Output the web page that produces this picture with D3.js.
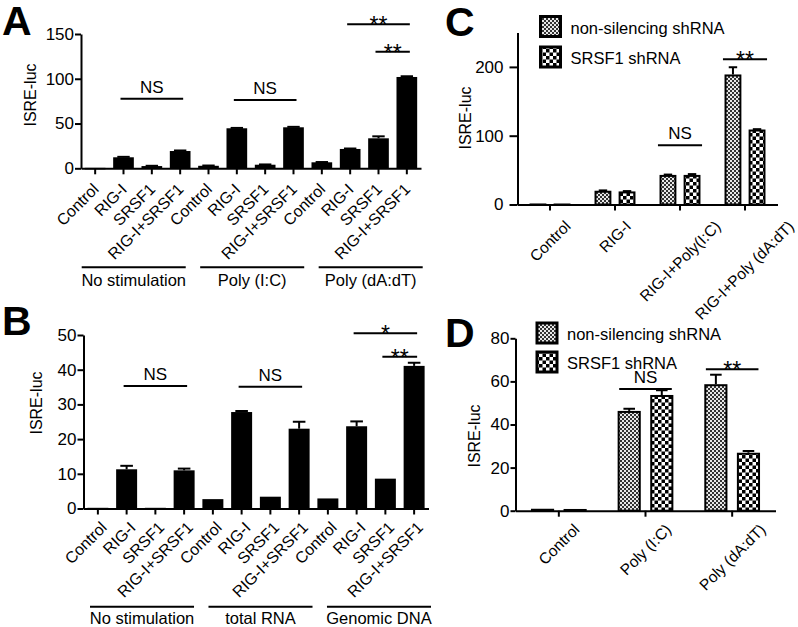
<!DOCTYPE html>
<html><head><meta charset="utf-8">
<script src="https://cdn.jsdelivr.net/npm/d3@7"></script>
<style>
body{margin:0;background:#fff}
svg text{font-family:"Liberation Sans",Arial,Helvetica,sans-serif;fill:#000}
</style>
</head><body>
<svg id="chart" width="798" height="627"></svg>
<script>
// ---------------- DATA ----------------
const conditions = ["Control", "RIG-I", "SRSF1", "RIG-I+SRSF1"];
const groupsA = ["No stimulation", "Poly (I:C)", "Poly (dA:dT)"];
const valuesA = [0.5, 12.3, 2.5, 19.3, 2.8, 44.7, 4, 45.8, 6.7, 21.6, 33.5, 102];
const errorsA = [0.2, 0.5, 0.3, 0.6, 0.3, 0.4, 0.3, 0.5, 0.3, 0.5, 2.2, 0.8];
const yTicksA = [0, 50, 100, 150];

const groupsB = ["No stimulation", "total RNA", "Genomic DNA"];
const valuesB = [0.2, 11.3, 0.2, 11, 2.7, 27.8, 3.4, 23, 2.9, 23.7, 8.6, 41.1];
const errorsB = [0, 1, 0, 0.5, 0, 0.3, 0, 2, 0, 1.4, 0.2, 0.9];
const yTicksB = [0, 10, 20, 30, 40, 50];

const seriesCD = ["non-silencing shRNA", "SRSF1 shRNA"];
const categoriesC = ["Control", "RIG-I", "RIG-I+Poly(I:C)", "RIG-I+Poly (dA:dT)"];
const nonSilencingC = [1.5, 20, 43, 189];
const nonSilencingErrC = [0, 0.5, 0.5, 10.5];
const srsf1C = [0.5, 19, 43, 109];
const srsf1ErrC = [0, 0.5, 1.2, 0.5];
const yTicksC = [0, 100, 200];

const categoriesD = ["Control", "Poly (I:C)", "Poly (dA:dT)"];
const nonSilencingD = [0.9, 46.3, 58.7];
const nonSilencingErrD = [0.1, 1, 4.4];
const srsf1D = [0.8, 53.7, 26.9];
const srsf1ErrD = [0.1, 2.2, 0.8];
const yTicksD = [0, 20, 40, 60, 80];

// significance annotations: [fromIndex, toIndex, lineValue, label]
const sigA = [[1, 3, 77.8, "NS"], [5, 7, 76.4, "NS"], [9, 11, 161, "**"], [10, 11, 130.3, "**"]];
const sigB = [[1, 3, 35.3, "NS"], [5, 7, 35.1, "NS"], [9, 11, 50.5, "*"], [10, 11, 43.7, "**"]];
const sigC = [[2, 86, "NS"], [3, 211, "**"]];
const sigD = [[1, 56.5, "NS"], [2, 65.6, "**"]];

// ---------------- DRAW ----------------
const svg = d3.select("#chart");
const FONT = '"Liberation Sans",Arial,Helvetica,sans-serif';

const defs = svg.append("defs");
// fine checker (non-silencing)
const p1 = defs.append("pattern").attr("id", "fine").attr("patternUnits", "userSpaceOnUse")
  .attr("width", 4).attr("height", 4);
p1.append("rect").attr("width", 4).attr("height", 4).attr("fill", "#e8e8e8");
p1.append("rect").attr("width", 2).attr("height", 2).attr("fill", "#333");
p1.append("rect").attr("x", 2).attr("y", 2).attr("width", 2).attr("height", 2).attr("fill", "#333");
// coarse checker (SRSF1)
const p2 = defs.append("pattern").attr("id", "coarse").attr("patternUnits", "userSpaceOnUse")
  .attr("width", 7).attr("height", 7);
p2.append("rect").attr("width", 7).attr("height", 7).attr("fill", "#fff");
p2.append("rect").attr("width", 3.5).attr("height", 3.5).attr("fill", "#000");
p2.append("rect").attr("x", 3.5).attr("y", 3.5).attr("width", 3.5).attr("height", 3.5).attr("fill", "#000");

function styleAxis(g) {
  g.selectAll("path.domain").attr("stroke", "#000").attr("stroke-width", 2);
  g.selectAll(".tick line").attr("stroke", "#000").attr("stroke-width", 2);
  g.selectAll(".tick text").style("font-family", FONT).style("font-size", "17px").attr("fill", "#000");
}

function panelLetter(txt, x, y) {
  svg.append("text").attr("x", x).attr("y", y).text(txt)
    .style("font-size", "41px").style("font-weight", "bold");
}
function yLabel(x, y, size) {
  svg.append("text").attr("transform", `translate(${x},${y}) rotate(-90)`)
    .attr("text-anchor", "middle").style("font-size", size + "px").text("ISRE-luc");
}
function sigText(x, lineY, label) {
  const star = label.indexOf("*") >= 0;
  svg.append("text").attr("x", x).attr("y", star ? lineY + 9 : lineY - 6)
    .attr("text-anchor", "middle")
    .style("font-size", star ? "23px" : "17px").text(label);
}
function sigLine(x1, x2, y) {
  svg.append("line").attr("x1", x1).attr("x2", x2).attr("y1", y).attr("y2", y)
    .attr("stroke", "#000").attr("stroke-width", 2);
}
function errBar(g, cx, yTop, yErr, halfCap) {
  g.append("line").attr("x1", cx).attr("x2", cx).attr("y1", yTop).attr("y2", yErr)
    .attr("stroke", "#000").attr("stroke-width", 2);
  g.append("line").attr("x1", cx - halfCap).attr("x2", cx + halfCap).attr("y1", yErr).attr("y2", yErr)
    .attr("stroke", "#000").attr("stroke-width", 2);
}

// ---- Panels A and B (single black bars, 12 columns) ----
function drawSolidPanel(cfg) {
  const labels = cfg.groups.flatMap(g => conditions.map(c => g + "|" + c));
  const x = d3.scaleBand().domain(labels).range([cfg.x0, cfg.x1]).paddingInner(0.27).paddingOuter(0.135);
  const y = d3.scaleLinear().domain([0, cfg.yMax]).range([cfg.yBase, cfg.yTop]);
  const g = svg.append("g");
  const bw = x.bandwidth();
  g.selectAll("rect.bar").data(cfg.values).join("rect")
    .attr("x", (d, i) => x(labels[i])).attr("width", bw)
    .attr("y", d => y(d)).attr("height", d => Math.max(1.5, y(0) - y(d)))
    .attr("fill", "#000");
  cfg.values.forEach((v, i) => {
    if (cfg.errors[i] > 0.25) errBar(g, x(labels[i]) + bw / 2, y(v), y(v + cfg.errors[i]), bw * 0.3);
  });
  // axes
  const ya = svg.append("g").attr("transform", `translate(${cfg.x0},0)`)
    .call(d3.axisLeft(y).tickValues(cfg.yTicks).tickSize(6).tickSizeOuter(0).tickPadding(1));
  styleAxis(ya);
  const xa = svg.append("g").attr("transform", `translate(0,${cfg.yBase})`)
    .call(d3.axisBottom(x).tickSize(6).tickSizeOuter(0).tickFormat(""));
  styleAxis(xa);
  xa.selectAll(".tick text").remove();
  // rotated labels
  labels.forEach((l, i) => {
    const cx = x(l) + bw / 2;
    svg.append("text")
      .attr("transform", `translate(${cx + cfg.ldx},${cfg.yBase + cfg.ldy}) rotate(-45)`)
      .attr("text-anchor", "end").style("font-size", "16px").text(l.split("|")[1]);
  });
  // group lines
  const gx = d3.scaleBand().domain(cfg.groups).range([cfg.g0, cfg.g1]).paddingInner(0.122);
  cfg.groups.forEach(gname => {
    const a = gx(gname), b = a + gx.bandwidth();
    sigLine(a, b, cfg.groupLineY);
    svg.append("text").attr("x", (a + b) / 2).attr("y", cfg.groupLineY + cfg.groupTextDy)
      .attr("text-anchor", "middle").style("font-size", "16.5px").text(gname);
  });
  // significance
  cfg.sig.forEach(([f, t, v, lab]) => {
    const xa1 = x(labels[f]) + bw / 2 - 3, xa2 = x(labels[t]) + bw / 2 + 3;
    sigLine(xa1, xa2, y(v));
    sigText((xa1 + xa2) / 2, y(v), lab);
  });
}

drawSolidPanel({
  groups: groupsA, values: valuesA, errors: errorsA, yTicks: yTicksA, yMax: 150,
  x0: 81, x1: 421, yBase: 168.3, yTop: 34, ldx: 4.5, ldy: 22,
  g0: 81.7, g1: 422.7, groupLineY: 267.3, groupTextDy: 19, sig: sigA
});
drawSolidPanel({
  groups: groupsB, values: valuesB, errors: errorsB, yTicks: yTicksB, yMax: 50,
  x0: 83.5, x1: 428.5, yBase: 508.5, yTop: 335, ldx: 10, ldy: 20,
  g0: 90, g1: 431, groupLineY: 606.7, groupTextDy: 16.8, sig: sigB
});
panelLetter("A", 2, 35);
panelLetter("B", 2, 335);
yLabel(36, 95, 16);
yLabel(41.5, 403, 16);

// ---- Panels C and D (paired patterned bars) ----
function drawPairPanel(cfg) {
  const x = d3.scaleBand().domain(cfg.cats).range([cfg.x0, cfg.x1])
    .paddingInner(cfg.pad).paddingOuter(cfg.pad / 2);
  const xi = d3.scaleBand().domain(seriesCD).range([0, x.bandwidth()]).paddingInner(cfg.ipad);
  const y = d3.scaleLinear().domain([0, cfg.yMax]).range([cfg.yBase, cfg.yTop]);
  const bw = xi.bandwidth();
  const series = [
    { name: seriesCD[0], vals: cfg.ns, errs: cfg.nsErr, fill: "url(#fine)" },
    { name: seriesCD[1], vals: cfg.sr, errs: cfg.srErr, fill: "url(#coarse)" }
  ];
  const g = svg.append("g");
  series.forEach(s => {
    s.vals.forEach((v, i) => {
      const bx = x(cfg.cats[i]) + xi(s.name);
      const h = Math.max(1, y(0) - y(v));
      g.append("rect").attr("x", bx + 1).attr("y", y(0) - h + 1)
        .attr("width", bw - 2).attr("height", Math.max(0.5, h - 1))
        .attr("fill", h < 4 ? "#000" : s.fill).attr("stroke", "#000").attr("stroke-width", 2);
      if (s.errs[i] > 0.3) errBar(g, bx + bw / 2, y(v), y(v + s.errs[i]), bw * 0.25);
    });
  });
  const ya = svg.append("g").attr("transform", `translate(${cfg.x0},0)`)
    .call(d3.axisLeft(y).tickValues(cfg.yTicks).tickSize(cfg.tick).tickSizeOuter(0).tickPadding(cfg.tpad));
  styleAxis(ya);
  const xa = svg.append("g").attr("transform", `translate(0,${cfg.yBase})`)
    .call(d3.axisBottom(x).tickSize(6).tickSizeOuter(0).tickFormat(""));
  styleAxis(xa);
  // labels: horizontally centred on tick, rotated -45
  cfg.cats.forEach(c => {
    const cx = x(c) + x.bandwidth() / 2;
    const t = svg.append("text").attr("text-anchor", "end").style("font-size", "15.5px").text(c);
    const L = t.node().getComputedTextLength();
    const hgt = 11;
    const ax = Math.min(cx + 0.354 * (L + hgt), 795);
    const ay = cfg.yBase + cfg.ltop + 0.707 * hgt;
    t.attr("transform", `translate(${ax},${ay}) rotate(-45)`);
  });
  // legend
  series.forEach((s, i) => {
    const ly = cfg.legY + i * cfg.legStep;
    svg.append("rect").attr("x", cfg.legX).attr("y", ly).attr("width", 20).attr("height", 20)
      .attr("fill", s.fill).attr("stroke", "#000").attr("stroke-width", 3);
    svg.append("text").attr("x", cfg.legX + 30).attr("y", ly + 17)
      .style("font-size", "16.5px").text(s.name);
  });
  // significance
  cfg.sig.forEach(([ci, v, lab]) => {
    const a = x(cfg.cats[ci]) + xi(seriesCD[0]) + bw / 2 - 10;
    const b = x(cfg.cats[ci]) + xi(seriesCD[1]) + bw / 2 + 10;
    sigLine(a, b, y(v));
    sigText((a + b) / 2, y(v), lab);
  });
}

drawPairPanel({
  cats: categoriesC, ns: nonSilencingC, nsErr: nonSilencingErrC, sr: srsf1C, srErr: srsf1ErrC,
  yTicks: yTicksC, yMax: 250, x0: 517.5, x1: 777.5, pad: 0.37, ipad: 0.3, tick: 8, tpad: 6,
  yBase: 204.5, yTop: 32.5, ltop: 15, legX: 540.5, legY: 16.5, legStep: 30.5, sig: sigC
});
drawPairPanel({
  cats: categoriesD, ns: nonSilencingD, nsErr: nonSilencingErrD, sr: srsf1D, srErr: srsf1ErrD,
  yTicks: yTicksD, yMax: 80, x0: 515.5, x1: 775.5, pad: 0.357, ipad: 0.29, tick: 5, tpad: 1,
  yBase: 510.7, yTop: 338.3, ltop: 12, legX: 537, legY: 323, legStep: 29, sig: sigD
});
panelLetter("C", 445, 36);
panelLetter("D", 445, 347);
yLabel(471, 118, 16);
yLabel(480, 436, 16);
</script>
</body></html>
